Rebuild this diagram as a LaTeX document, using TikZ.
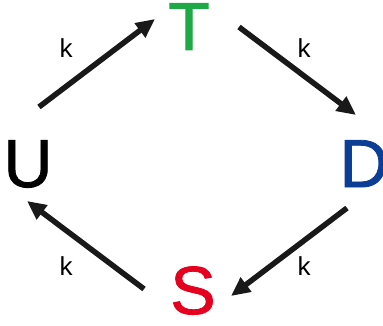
\documentclass[tikz,border=0pt]{standalone}
\usepackage{fontspec}
\setmainfont{Liberation Sans}
\newfontfamily\statefont[FakeBold=1.2]{Liberation Sans}
\usetikzlibrary{arrows.meta}
\definecolor{tgreen}{RGB}{30,168,70}
\definecolor{dblue}{RGB}{12,62,150}
\definecolor{sred}{RGB}{228,0,30}
\definecolor{arrowblack}{RGB}{25,25,25}
\begin{document}
\begin{tikzpicture}[x=1pt,y=-1pt,
  state/.style={inner sep=0pt,anchor=base,font=\statefont\fontsize{68}{68}\selectfont},
  rate/.style={inner sep=0pt,anchor=base,font=\fontsize{26}{26}\selectfont},
  flow/.style={draw=arrowblack,line width=5.5pt,-{Triangle[length=19pt,width=17pt]}}]
\useasboundingbox (0,0) rectangle (383,326);
% states
\node[state,text=tgreen] (T) at (189,50) {T};
\node[state,text=dblue] (D) at (364,187) {D};
\node[state,text=sred] (S) at (193,314) {S};
\node[state,text=black] (U) at (28,187) {U};
% arrow end points
\coordinate (ut0) at (39,107);
\coordinate (ut1) at (155,19);
\coordinate (td0) at (239,27);
\coordinate (td1) at (356,115);
\coordinate (ds0) at (347,208);
\coordinate (ds1) at (231,296);
\coordinate (su0) at (144,289);
\coordinate (su1) at (27,201);
% transitions
\draw[flow] (ut0) -- (ut1);
\draw[flow] (td0) -- (td1);
\draw[flow] (ds0) -- (ds1);
\draw[flow] (su0) -- (su1);
% rate labels
\node[rate] (k1) at (66,58) {k};
\node[rate] (k2) at (304,58) {k};
\node[rate] (k3) at (304,275) {k};
\node[rate] (k4) at (66,275) {k};
\end{tikzpicture}
\end{document}
